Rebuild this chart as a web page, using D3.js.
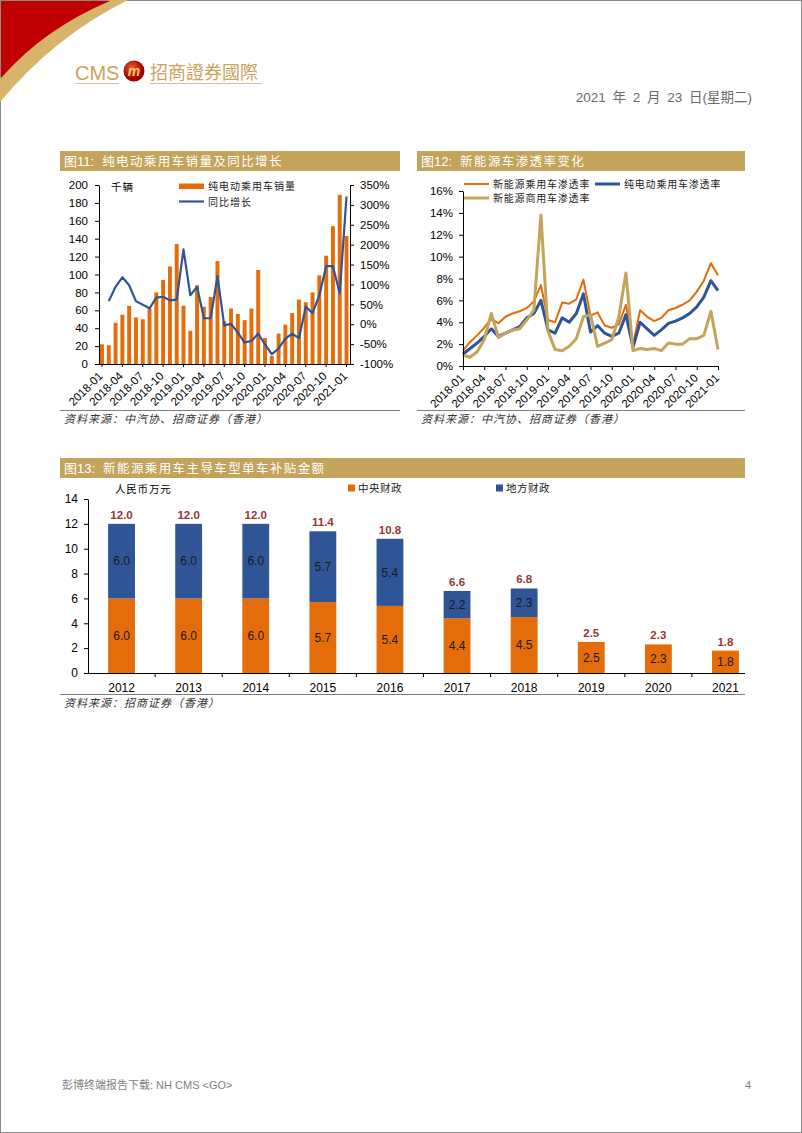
<!DOCTYPE html>
<html><head><meta charset="utf-8">
<script src="https://cdn.jsdelivr.net/npm/d3@7"></script>
<style>
body{margin:0;background:#fff;}
svg{display:block;}
</style></head><body>
<svg id="page" width="802" height="1133"></svg>
<script>
// ---------------- DATA ----------------
const months = ["2018-01","2018-02","2018-03","2018-04","2018-05","2018-06","2018-07","2018-08","2018-09","2018-10","2018-11","2018-12",
"2019-01","2019-02","2019-03","2019-04","2019-05","2019-06","2019-07","2019-08","2019-09","2019-10","2019-11","2019-12",
"2020-01","2020-02","2020-03","2020-04","2020-05","2020-06","2020-07","2020-08","2020-09","2020-10","2020-11","2020-12","2021-01"];
const monthTicks = ["2018-01","2018-04","2018-07","2018-10","2019-01","2019-04","2019-07","2019-10","2020-01","2020-04","2020-07","2020-10","2021-01"];

// Fig 11: BEV passenger car sales (thousand) and YoY growth (%)
const bevSales = [22,21,46,55,65,52,50,62,80,94,109,134,65,37,88,64,75,115,48,62,56,49,62,105,29,9,34,44,57,72,69,80,99,121,154,189,143];
const bevYoY = [null,58,94,118,98,58,49,40,67,69,60,62,188,73,94,15,15,121,-3,1,-21,-46,-42,-24,-51,-75,-61,-36,-24,-35,44,28,73,146,146,78,321];
const salesTicks = [0,20,40,60,80,100,120,140,160,180,200];
const yoyTicks = [-100,-50,0,50,100,150,200,250,300,350];

// Fig 12: penetration rates (%)
const nevPassRate = [1.4,2.2,2.8,3.5,4.3,3.9,4.5,4.8,5.0,5.3,5.9,7.4, 4.2,4.0,5.8,5.7,6.1,7.9,4.6,4.9,3.7,3.5,3.8,5.6, 1.9,5.1,4.5,4.1,4.4,5.1,5.3,5.6,6.0,6.8,7.8,9.4, 8.3];
const bevPassRate = [1.1,1.6,2.1,2.7,3.4,2.7,3.0,3.3,3.6,4.4,4.8,6.0, 3.3,3.0,4.4,4.0,4.8,6.6,3.1,3.7,3.0,2.7,3.0,4.7, 1.7,4.0,3.4,2.8,3.3,3.9,4.1,4.4,4.8,5.4,6.3,7.8, 6.9];
const nevCommRate = [1.0,0.8,1.3,2.4,4.8,2.6,3.0,3.3,3.4,4.2,5.1,13.8, 3.2,1.5,1.4,1.8,2.5,4.5,4.7,1.8,2.1,2.4,4.5,8.5, 1.4,1.6,1.5,1.6,1.4,2.1,2.0,2.0,2.5,2.5,2.8,5.0, 1.5];
const rateTicks = [0,2,4,6,8,10,12,14,16];

// Fig 13: subsidy per vehicle (10k RMB)
const years = ["2012","2013","2014","2015","2016","2017","2018","2019","2020","2021"];
const centralSubsidy = [6.0,6.0,6.0,5.7,5.4,4.4,4.5,2.5,2.3,1.8];
const localSubsidy   = [6.0,6.0,6.0,5.7,5.4,2.2,2.3,0,0,0];
const totalSubsidy   = [12.0,12.0,12.0,11.4,10.8,6.6,6.8,2.5,2.3,1.8];
const subsidyTicks = [0,2,4,6,8,10,12,14];

// ---------------- STYLE ----------------
const GOLD = "#C4A35A", ORANGE = "#E46C0A", BLUE = "#2F5597", DARKRED = "#953735";
const CJK = "'Noto Sans CJK SC', sans-serif";
const LAT = "'Liberation Sans', Arial, sans-serif";
const MIX = "'Liberation Sans', 'Noto Sans CJK SC', sans-serif";

const svg = d3.select("#page");
svg.append("rect").attr("x",0.5).attr("y",0.5).attr("width",801).attr("height",1132)
  .attr("fill","#fff").attr("stroke","#8a8a8a");

// ---------------- HEADER ----------------
svg.append("path").attr("d","M110,0 L128,0 Q55,36 0,102 L0,78 Q45,28 110,0 Z").attr("fill","#D8B46A");
svg.append("path").attr("d","M1,1 L110,1 Q45,28 1,78 Z").attr("fill","#C00000");
svg.append("text").attr("x",75).attr("y",80).attr("font-family",LAT).attr("font-size",20)
  .attr("fill","#C9A45C").text("CMS");
const grad = svg.append("defs").append("radialGradient").attr("id","lg").attr("cx","40%").attr("cy","35%");
grad.append("stop").attr("offset","0%").attr("stop-color","#F06030");
grad.append("stop").attr("offset","100%").attr("stop-color","#A00000");
svg.append("circle").attr("cx",134).attr("cy",71).attr("r",10.5).attr("fill","url(#lg)");
svg.append("text").attr("x",134).attr("y",76).attr("text-anchor","middle").attr("font-family",LAT)
  .attr("font-style","italic").attr("font-weight","bold").attr("font-size",14).attr("fill","#F2C76A").text("m");
svg.append("text").attr("x",150).attr("y",79).attr("font-family","'Noto Sans CJK TC', sans-serif")
  .attr("font-size",18).attr("fill","#C9A45C").text("招商證券國際");
svg.append("line").attr("x1",75).attr("x2",119).attr("y1",83.5).attr("y2",83.5).attr("stroke","#D8BE88");
svg.append("line").attr("x1",150).attr("x2",262).attr("y1",83.5).attr("y2",83.5).attr("stroke","#D8BE88");
svg.append("text").attr("x",752).attr("y",102).attr("text-anchor","end").attr("font-family",MIX)
  .attr("font-size",13.5).attr("word-spacing",3).attr("fill","#6b6b6b").text("2021 年 2 月 23 日(星期二)");

// ---------------- HELPERS ----------------
function titleBar(x,y,w,num,txt){
  svg.append("rect").attr("x",x).attr("y",y).attr("width",w).attr("height",20).attr("fill",GOLD);
  const t = svg.append("text").attr("x",x+4).attr("y",y+15).attr("fill","#fff").attr("font-size",13);
  t.append("tspan").attr("font-family",CJK).text("图");
  t.append("tspan").attr("font-family",LAT).text(num+":");
  t.append("tspan").attr("font-family",CJK).attr("dx",8).attr("letter-spacing",1.4).attr("font-size",12.5).text(txt);
}
function styleAxis(g,fs){
  g.select(".domain").attr("stroke","#000");
  g.selectAll(".tick line").attr("stroke","#000");
  g.selectAll(".tick text").attr("font-family",LAT).attr("font-size",fs).attr("fill","#000");
}
function source(x1,x2,yLine,txt){
  svg.append("line").attr("x1",x1).attr("x2",x2).attr("y1",yLine+0.5).attr("y2",yLine+0.5).attr("stroke","#7f7f7f");
  svg.append("text").attr("x",x1+4).attr("y",yLine+13).attr("font-family",CJK).attr("font-style","italic")
    .attr("font-size",11).attr("letter-spacing",1).attr("fill","#333").text(txt);
}
function rotateLabels(g){
  g.selectAll(".tick text").attr("transform","rotate(-45)").attr("text-anchor","end")
    .attr("x",-8).attr("y",6).attr("dy","0.35em");
}

// ---------------- FIG 11 ----------------
titleBar(60,151,340,"11","纯电动乘用车销量及同比增长");
const c11 = svg.append("g");
const x11 = d3.scaleBand().domain(months).range([99,349.5]).paddingInner(0.42).paddingOuter(0.15);
const yL11 = d3.scaleLinear().domain([0,200]).range([364,185]);
const yR11 = d3.scaleLinear().domain([-100,350]).range([364,185]);

c11.selectAll("rect.bar").data(months).join("rect").attr("class","bar")
  .attr("x",d=>x11(d)).attr("width",x11.bandwidth())
  .attr("y",(d,i)=>yL11(bevSales[i])).attr("height",(d,i)=>yL11(0)-yL11(bevSales[i]))
  .attr("fill",ORANGE);

const line11 = d3.line().defined(d=>d.v!=null)
  .x(d=>x11(d.m)+x11.bandwidth()/2).y(d=>yR11(d.v));
c11.append("path").datum(months.map((m,i)=>({m,v:bevYoY[i]})))
  .attr("d",line11).attr("fill","none").attr("stroke",BLUE).attr("stroke-width",2.2).attr("stroke-linejoin","round");

const ax11L = c11.append("g").attr("transform","translate(99,0)")
  .call(d3.axisLeft(yL11).tickValues(salesTicks).tickSize(4).tickSizeOuter(0).tickPadding(7));
styleAxis(ax11L,11.5);
const ax11R = c11.append("g").attr("transform","translate(350,0)")
  .call(d3.axisRight(yR11).tickValues(yoyTicks).tickFormat(d=>d+"%").tickSize(4).tickSizeOuter(0).tickPadding(6));
styleAxis(ax11R,11.5);
const ax11B = c11.append("g").attr("transform","translate(0,364)")
  .call(d3.axisBottom(x11).tickValues(monthTicks).tickSize(3).tickSizeOuter(0));
styleAxis(ax11B,11.5);
ax11B.select(".domain").attr("d","M99,0.5H350");
rotateLabels(ax11B);

c11.append("text").attr("x",111).attr("y",191).attr("font-family",CJK).attr("font-size",10.5).attr("letter-spacing",1).text("千辆");
c11.append("rect").attr("x",179).attr("y",183.5).attr("width",25).attr("height",5.5).attr("fill",ORANGE);
c11.append("text").attr("x",208).attr("y",190).attr("font-family",CJK).attr("font-size",10).attr("letter-spacing",1).attr("fill","#222").text("纯电动乘用车销量");
c11.append("line").attr("x1",179).attr("x2",204).attr("y1",201.5).attr("y2",201.5).attr("stroke",BLUE).attr("stroke-width",2.2);
c11.append("text").attr("x",208).attr("y",205.5).attr("font-family",CJK).attr("font-size",10).attr("letter-spacing",1).attr("fill","#222").text("同比增长");
source(60,400,410,"资料来源：中汽协、招商证券（香港）");

// ---------------- FIG 12 ----------------
titleBar(417,151,328,"12","新能源车渗透率变化");
const c12 = svg.append("g");
const x12 = d3.scalePoint().domain(months).range([463,718]);
const y12 = d3.scaleLinear().domain([0,16]).range([366,191]);
const series12 = [
  {name:"新能源乘用车渗透率", vals:nevPassRate, color:ORANGE, w:2},
  {name:"纯电动乘用车渗透率", vals:bevPassRate, color:BLUE, w:3},
  {name:"新能源商用车渗透率", vals:nevCommRate, color:GOLD, w:3}
];
const line12 = d3.line().x(d=>x12(d.m)).y(d=>y12(d.v));
series12.forEach(s=>{
  c12.append("path").datum(months.map((m,i)=>({m,v:s.vals[i]})))
    .attr("d",line12).attr("fill","none").attr("stroke",s.color).attr("stroke-width",s.w).attr("stroke-linejoin","round");
});
const ax12L = c12.append("g").attr("transform","translate(463,0)")
  .call(d3.axisLeft(y12).tickValues(rateTicks).tickFormat(d=>d+"%").tickSize(4).tickSizeOuter(0).tickPadding(6));
styleAxis(ax12L,11.5);
const ax12B = c12.append("g").attr("transform","translate(0,366)")
  .call(d3.axisBottom(x12).tickValues(monthTicks).tickSize(4).tickSizeOuter(0));
styleAxis(ax12B,11.5);
rotateLabels(ax12B);

const leg12 = [[464,184,0],[595,184,1],[464,198,2]];
leg12.forEach(([lx,ly,k])=>{
  const s = series12[k];
  c12.append("line").attr("x1",lx).attr("x2",lx+25).attr("y1",ly).attr("y2",ly).attr("stroke",s.color).attr("stroke-width",s.w);
  c12.append("text").attr("x",lx+29).attr("y",ly+4).attr("font-family",CJK).attr("font-size",10).attr("letter-spacing",0.8).attr("fill","#222").text(s.name);
});
source(417,745,410,"资料来源：中汽协、招商证券（香港）");

// ---------------- FIG 13 ----------------
titleBar(60,458,685,"13","新能源乘用车主导车型单车补贴金额");
const c13 = svg.append("g");
const x13 = d3.scaleBand().domain(years).range([88,759]).paddingInner(0.6).paddingOuter(0.3);
const y13 = d3.scaleLinear().domain([0,14]).range([673,499]);
const rows13 = years.map((y,i)=>({year:y, central:centralSubsidy[i], local:localSubsidy[i], total:totalSubsidy[i]}));
const stack13 = d3.stack().keys(["central","local"])(rows13);
const colors13 = {central:ORANGE, local:BLUE};
stack13.forEach(layer=>{
  c13.selectAll("rect."+layer.key).data(layer).join("rect").attr("class",layer.key)
    .attr("x",d=>x13(d.data.year)).attr("width",x13.bandwidth())
    .attr("y",d=>y13(d[1])).attr("height",d=>y13(d[0])-y13(d[1]))
    .attr("fill",colors13[layer.key]);
  c13.selectAll("text."+layer.key).data(layer.filter(d=>d.data[layer.key]>0)).join("text").attr("class",layer.key)
    .attr("x",d=>x13(d.data.year)+x13.bandwidth()/2).attr("y",d=>y13((d[0]+d[1])/2)).attr("dy","0.36em")
    .attr("text-anchor","middle").attr("font-family",LAT).attr("font-size",12).attr("fill","#1a1a1a")
    .text(d=>d.data[layer.key].toFixed(1));
});
c13.selectAll("text.total").data(rows13).join("text").attr("class","total")
  .attr("x",d=>x13(d.year)+x13.bandwidth()/2).attr("y",d=>y13(d.total)-5)
  .attr("text-anchor","middle").attr("font-family",LAT).attr("font-weight","bold").attr("font-size",11.5)
  .attr("fill",DARKRED).text(d=>d.total.toFixed(1));

const ax13L = c13.append("g").attr("transform","translate(88,0)")
  .call(d3.axisLeft(y13).tickValues(subsidyTicks).tickSize(4).tickSizeOuter(0).tickPadding(6));
styleAxis(ax13L,12);
const ax13B = c13.append("g").attr("transform","translate(0,673)")
  .call(d3.axisBottom(x13).tickSize(0).tickPadding(10));
styleAxis(ax13B,12);
ax13B.select(".domain").attr("d","M88,0.5H745");
const gap13 = (x13.step()-x13.bandwidth())/2;
c13.selectAll("line.bt").data(years.slice(1)).join("line").attr("class","bt")
  .attr("x1",d=>x13(d)-gap13).attr("x2",d=>x13(d)-gap13).attr("y1",673).attr("y2",677).attr("stroke","#000");

c13.append("text").attr("x",115).attr("y",493).attr("font-family",CJK).attr("font-size",10.5).attr("letter-spacing",0.8).text("人民币万元");
c13.append("rect").attr("x",348).attr("y",484.5).attr("width",7).attr("height",7).attr("fill",ORANGE);
c13.append("text").attr("x",358).attr("y",492).attr("font-family",CJK).attr("font-size",10.5).attr("letter-spacing",0.5).attr("fill","#222").text("中央财政");
c13.append("rect").attr("x",496).attr("y",484.5).attr("width",7).attr("height",7).attr("fill",BLUE);
c13.append("text").attr("x",506).attr("y",492).attr("font-family",CJK).attr("font-size",10.5).attr("letter-spacing",0.5).attr("fill","#222").text("地方财政");
source(60,745,694,"资料来源：招商证券（香港）");

// ---------------- FOOTER ----------------
svg.append("text").attr("x",62).attr("y",1089).attr("font-family",MIX).attr("font-size",11).attr("fill","#7f7f7f").text("彭博终端报告下载: NH CMS <GO>");
svg.append("text").attr("x",751).attr("y",1089).attr("text-anchor","end").attr("font-family",LAT).attr("font-size",11).attr("fill","#7f7f7f").text("4");
</script></body></html>
